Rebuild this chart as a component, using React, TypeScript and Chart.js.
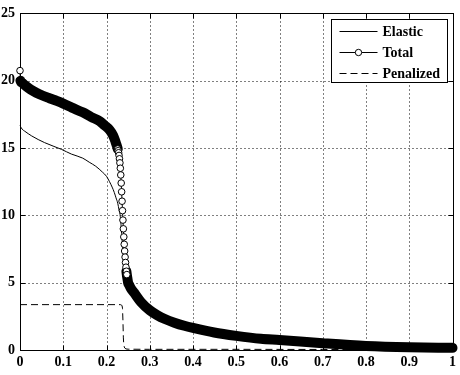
import React, { useEffect, useRef } from 'react';
import { Chart, registerables } from 'chart.js';

Chart.register(...registerables);

const xTickValues = [0, 0.1, 0.2, 0.3, 0.4, 0.5, 0.6, 0.7, 0.8, 0.9, 1];
const xTickLabels = ['0', '0.1', '0.2', '0.3', '0.4', '0.5', '0.6', '0.7', '0.8', '0.9', '1'];
const yTickValues = [0, 5, 10, 15, 20, 25];
const yTickLabels = ['0', '5', '10', '15', '20', '25'];

const seriesLabels = ['Elastic', 'Total', 'Penalized'];

const totalX = [
  0, 0.001, 0.005, 0.01, 0.02, 0.03, 0.045, 0.068, 0.085, 0.1, 0.12, 0.145, 0.165, 0.184, 0.195, 0.207, 0.215, 0.22,
  0.221, 0.222, 0.223, 0.224, 0.225, 0.226, 0.227, 0.228, 0.229, 0.23,
  0.231, 0.232, 0.233, 0.234, 0.235, 0.236, 0.237, 0.238, 0.239, 0.24,
  0.241, 0.242, 0.243, 0.244, 0.245, 0.246, 0.247, 0.248, 0.249, 0.25,
  0.252, 0.256, 0.264, 0.28, 0.3, 0.318, 0.335, 0.357, 0.38, 0.4, 0.449, 0.5, 0.557, 0.6, 0.7, 0.8, 0.9, 1,
];
const totalY = [
  20.75, 20.0, 19.85, 19.7, 19.45, 19.25, 19.0, 18.7, 18.5, 18.3, 18.0, 17.65, 17.3, 17.0, 16.7, 16.35, 15.95, 15.55,
  15.45, 15.35, 15.26, 15.16, 15.05, 14.93, 14.8, 14.65, 14.45, 14.2,
  13.9, 13.5, 13.0, 12.4, 11.75, 11.05, 10.35, 9.65, 9.0, 8.4,
  7.85, 7.35, 6.9, 6.5, 6.15, 5.85, 5.6, 5.38, 5.18, 5.0,
  4.85, 4.6, 4.25, 3.55, 2.95, 2.57, 2.3, 2.03, 1.8, 1.64, 1.3, 1.05, 0.83, 0.74, 0.5, 0.3, 0.2, 0.16,
];

const elasticX = [
  0, 0.005, 0.011, 0.027, 0.057, 0.096, 0.119, 0.145, 0.16, 0.175, 0.191, 0.2, 0.207, 0.213, 0.218, 0.222, 0.226,
  0.229, 0.232, 0.234, 0.236, 0.238, 0.24, 0.242, 0.244, 0.246, 0.248, 0.25, 0.256, 0.264, 0.28, 0.3, 0.318, 0.357,
  0.4, 0.45, 0.5, 0.557, 0.6, 0.7, 0.8, 0.9, 1,
];
const elasticY = [
  16.67, 16.4, 16.25, 15.9, 15.4, 14.9, 14.55, 14.25, 13.95, 13.65, 13.2, 12.9, 12.5, 12.1, 11.7, 11.3, 10.9,
  10.4, 9.9, 9.1, 8.2, 7.4, 6.8, 6.3, 6.0, 5.75, 5.35, 5.0, 4.55, 4.2, 3.5, 2.9, 2.52, 2.0,
  1.6, 1.27, 1.02, 0.8, 0.72, 0.47, 0.28, 0.19, 0.15,
];

const penalizedX = [0, 0.1, 0.2, 0.232, 0.235, 0.236, 0.237, 0.238, 0.239, 0.24, 0.242, 0.245, 0.25, 0.3, 0.5, 0.7, 1];
const penalizedY = [3.37, 3.37, 3.37, 3.37, 3.33, 3.28, 3.1, 2.2, 0.9, 0.35, 0.15, 0.08, 0.06, 0.05, 0.05, 0.04, 0.03];

const FONT_FAMILY = '"Liberation Serif", "Times New Roman", serif';

const toPoints = (xs: number[], ys: number[]) => xs.map((x, i) => ({ x, y: ys[i] }));

const matlabPlugin = {
  id: 'matlabAxes',
  beforeDatasetsDraw(chart: any) {
    const { ctx, chartArea: a, scales } = chart;
    const xs = scales.x;
    const ys = scales.y;
    const L = Math.round(a.left) + 0.5;
    const R = Math.round(a.right) + 0.5;
    const T = Math.round(a.top) + 0.5;
    const B = Math.round(a.bottom) + 0.5;
    ctx.save();
    ctx.strokeStyle = '#000';
    ctx.lineWidth = 1;
    ctx.setLineDash([1, 3]);
    xTickValues.forEach((v) => {
      if (v <= 0 || v >= 1) return;
      const px = Math.round(xs.getPixelForValue(v)) + 0.5;
      ctx.beginPath();
      ctx.moveTo(px, B);
      ctx.lineTo(px, T);
      ctx.stroke();
    });
    yTickValues.forEach((v) => {
      if (v <= 0 || v >= 25) return;
      const py = Math.round(ys.getPixelForValue(v)) + 0.5;
      ctx.beginPath();
      ctx.moveTo(L, py);
      ctx.lineTo(R, py);
      ctx.stroke();
    });
    ctx.setLineDash([]);
    const tl = 5;
    xTickValues.forEach((v) => {
      const px = Math.round(xs.getPixelForValue(v)) + 0.5;
      ctx.beginPath();
      ctx.moveTo(px, B);
      ctx.lineTo(px, B - tl);
      ctx.moveTo(px, T);
      ctx.lineTo(px, T + tl);
      ctx.stroke();
    });
    yTickValues.forEach((v) => {
      const py = Math.round(ys.getPixelForValue(v)) + 0.5;
      ctx.beginPath();
      ctx.moveTo(L, py);
      ctx.lineTo(L + tl, py);
      ctx.moveTo(R, py);
      ctx.lineTo(R - tl, py);
      ctx.stroke();
    });
    ctx.strokeRect(L, T, R - L, B - T);
    ctx.restore();
  },
  afterDatasetsDraw(chart: any) {
    const { ctx, chartArea: a } = chart;
    const w = 116;
    const h = 63;
    const bx = Math.round(a.right) - 6 - w + 0.5;
    const by = Math.round(a.top) + 6 + 0.5;
    ctx.save();
    ctx.fillStyle = '#fff';
    ctx.fillRect(bx, by, w, h);
    ctx.strokeStyle = '#000';
    ctx.lineWidth = 1;
    ctx.strokeRect(bx, by, w, h);
    const rows = [by + 11, by + 32, by + 53];
    const x0 = bx + 8;
    const x1 = bx + 46;
    ctx.font = `bold 14px ${FONT_FAMILY}`;
    ctx.fillStyle = '#000';
    ctx.textBaseline = 'middle';
    ctx.textAlign = 'left';
    seriesLabels.forEach((label, i) => {
      const y = Math.round(rows[i]) + 0.5;
      ctx.beginPath();
      if (i === 2) ctx.setLineDash([7, 4]);
      else ctx.setLineDash([]);
      ctx.moveTo(x0, y);
      ctx.lineTo(x1, y);
      ctx.stroke();
      ctx.setLineDash([]);
      if (i === 1) {
        ctx.beginPath();
        ctx.arc((x0 + x1) / 2, y, 3.2, 0, Math.PI * 2);
        ctx.fillStyle = '#fff';
        ctx.fill();
        ctx.stroke();
        ctx.fillStyle = '#000';
      }
      ctx.fillText(label, bx + 51, y + 0.5);
    });
    ctx.restore();
  },
};

export default function App() {
  const canvasRef = useRef<HTMLCanvasElement | null>(null);

  useEffect(() => {
    document.body.style.margin = '0';
    const canvas = canvasRef.current;
    if (!canvas) return;

    const steep = (x: number) => x >= 0.2255 && x <= 0.2475;

    const chart = new Chart(canvas, {
      type: 'line',
      data: {
        datasets: [
          {
            label: seriesLabels[1],
            data: toPoints(totalX, totalY),
            order: 0,
            borderColor: '#000',
            borderWidth: 1,
            borderCapStyle: 'round',
            borderJoinStyle: 'round',
            cubicInterpolationMode: 'monotone',
            clip: false as any,
            pointStyle: 'circle',
            pointRadius: (c: any) => {
              const x = c.raw ? c.raw.x : -1;
              return x === 0 || steep(x) ? 3.3 : 0;
            },
            pointBackgroundColor: '#fff',
            pointBorderColor: '#000',
            pointBorderWidth: 1,
            segment: {
              borderWidth: (c: any) => {
                const a = c.p0.parsed.x;
                const b = c.p1.parsed.x;
                if (a < 0.0005) return 1;
                if (a >= 0.2255 && b <= 0.2465) return 1;
                return 10;
              },
            },
          } as any,
          {
            label: seriesLabels[0],
            data: toPoints(elasticX, elasticY),
            order: 1,
            borderColor: '#000',
            borderWidth: 1,
            cubicInterpolationMode: 'monotone',
            pointRadius: 0,
            clip: false as any,
          } as any,
          {
            label: seriesLabels[2],
            data: toPoints(penalizedX, penalizedY),
            order: 2,
            borderColor: '#000',
            borderWidth: 1,
            borderDash: [7, 4],
            tension: 0,
            pointRadius: 0,
            clip: false as any,
          } as any,
        ],
      },
      options: {
        animation: false,
        responsive: false,
        devicePixelRatio: 1,
        events: [],
        layout: { padding: { top: 9, right: 6, left: 0, bottom: 0 } },
        plugins: {
          legend: { display: false },
          tooltip: { enabled: false },
          title: { display: false },
        },
        scales: {
          x: {
            type: 'linear',
            min: 0,
            max: 1,
            grid: { display: false, drawTicks: false },
            border: { display: false },
            afterBuildTicks: (s: any) => {
              s.ticks = xTickValues.map((v) => ({ value: v }));
            },
            afterFit: (s: any) => {
              s.height = 25;
            },
            ticks: {
              autoSkip: false,
              maxRotation: 0,
              minRotation: 0,
              padding: 4,
              color: '#000',
              font: { family: FONT_FAMILY, size: 14, weight: 'bold' },
              callback: (_v: any, i: number) => xTickLabels[i],
            },
          },
          y: {
            type: 'linear',
            min: 0,
            max: 25,
            grid: { display: false, drawTicks: false },
            border: { display: false },
            afterBuildTicks: (s: any) => {
              s.ticks = yTickValues.map((v) => ({ value: v }));
            },
            afterFit: (s: any) => {
              s.width = 20;
            },
            ticks: {
              autoSkip: false,
              padding: 5,
              color: '#000',
              font: { family: FONT_FAMILY, size: 14, weight: 'bold' },
              callback: (_v: any, i: number) => yTickLabels[i],
            },
          },
        },
      } as any,
      plugins: [matlabPlugin],
    });

    return () => chart.destroy();
  }, []);

  return (
    <div style={{ width: 460, height: 375 }}>
      <canvas ref={canvasRef} width={460} height={375} style={{ display: 'block' }} />
    </div>
  );
}
